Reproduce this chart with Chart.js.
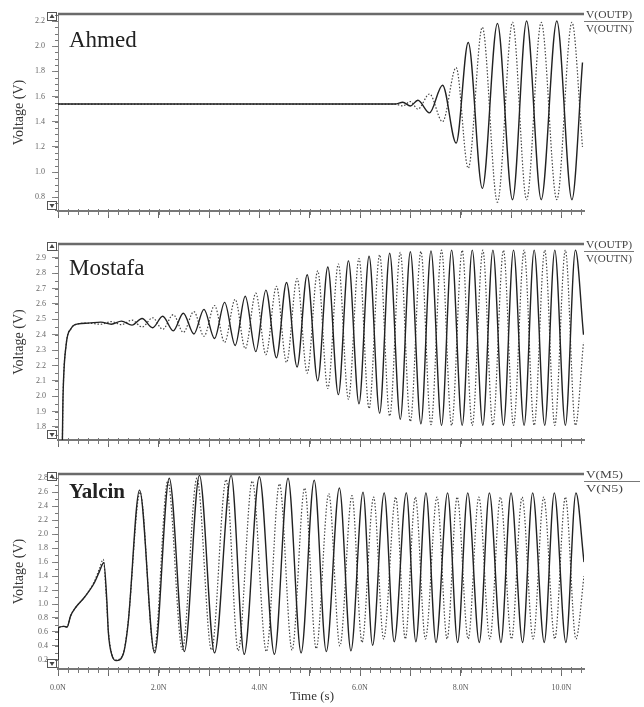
<!DOCTYPE html>
<html>
<head>
<meta charset="utf-8">
<script src="https://cdn.jsdelivr.net/npm/chart.js@4.4.1/dist/chart.umd.min.js"></script>
<style>
  html, body { margin: 0; padding: 0; background: #fff; }
  #wrap { position: relative; width: 644px; height: 707px; }
  #wrap canvas { position: absolute; left: 0; }
</style>
</head>
<body>
<div id="wrap">
  <canvas id="p1" width="644" height="225" style="top:0px"></canvas>
  <canvas id="p2" width="644" height="225" style="top:230px"></canvas>
  <canvas id="p3" width="644" height="247" style="top:460px"></canvas>
</div>
<script>
// time axis (ns): big ticks every 1 ns, labels every 2 ns
const timeTicks = [0, 1, 2, 3, 4, 5, 6, 7, 8, 9, 10];
const timeLabels = ['0.0N', '2.0N', '4.0N', '6.0N', '8.0N', '10.0N'];

// Ahmed: V(OUTP) solid, V(OUTN) dotted, extrema
const ahmedT = [0, 6.70, 6.85, 7.00, 7.15, 7.38, 7.64, 7.91, 8.15, 8.43, 8.73, 9.03, 9.31, 9.60, 9.91, 10.21, 10.42];
const ahmedP = [1.54, 1.54, 1.555, 1.525, 1.57, 1.47, 1.69, 1.23, 2.03, 0.87, 2.18, 0.78, 2.20, 0.78, 2.20, 0.78, 1.87];
const ahmedN = [1.54, 1.54, 1.525, 1.56, 1.50, 1.62, 1.40, 1.83, 1.03, 2.15, 0.76, 2.19, 0.78, 2.19, 0.78, 2.19, 1.20];
const ahmedTicks = [0.8, 1.0, 1.2, 1.4, 1.6, 1.8, 2.0, 2.2];

// Mostafa
const mostafaT = [0, 0.08, 0.10, 0.16, 0.26, 0.40, 0.60,
  0.85, 1.06, 1.26, 1.47, 1.67, 1.88, 2.08, 2.29, 2.49, 2.70, 2.90, 3.11, 3.31, 3.52, 3.72, 3.93,
  4.13, 4.34, 4.54, 4.75, 4.95, 5.16, 5.36, 5.57, 5.77, 5.98, 6.18, 6.39, 6.59, 6.80, 7.00, 7.21,
  7.41, 7.62, 7.82, 8.03, 8.23, 8.44, 8.64, 8.85, 9.05, 9.26, 9.46, 9.67, 9.87, 10.08, 10.28, 10.44];
const mostafaP = [1.50, 1.60, 2.00, 2.33, 2.44, 2.47, 2.475,
  2.482, 2.468, 2.488, 2.462, 2.505, 2.445, 2.52, 2.425, 2.54, 2.405, 2.565, 2.375, 2.61, 2.33, 2.65, 2.29,
  2.69, 2.25, 2.74, 2.19, 2.79, 2.10, 2.84, 2.01, 2.88, 1.95, 2.91, 1.89, 2.93, 1.85, 2.94, 1.82,
  2.945, 1.81, 2.95, 1.81, 2.95, 1.81, 2.95, 1.81, 2.95, 1.81, 2.95, 1.81, 2.95, 1.81, 2.95, 2.40];
const mostafaN = [1.50, 1.60, 2.00, 2.33, 2.44, 2.47, 2.475,
  2.468, 2.485, 2.465, 2.495, 2.45, 2.51, 2.435, 2.53, 2.415, 2.55, 2.39, 2.59, 2.35, 2.63, 2.31, 2.67,
  2.27, 2.715, 2.22, 2.765, 2.15, 2.815, 2.05, 2.86, 1.98, 2.895, 1.92, 2.92, 1.87, 2.935, 1.835, 2.942,
  1.815, 2.95, 1.81, 2.95, 1.81, 2.95, 1.81, 2.95, 1.81, 2.95, 1.81, 2.95, 1.81, 2.95, 1.81, 2.35];
const mostafaTicks = [1.8, 1.9, 2.0, 2.1, 2.2, 2.3, 2.4, 2.5, 2.6, 2.7, 2.8, 2.9];

// Yalcin: V(M5) solid, V(N5) dotted
const yalcinMT = [0, 0.01, 0.12, 0.18, 0.25, 0.35, 0.53, 0.72, 0.82, 0.91, 0.97, 1.00, 1.07, 1.16, 1.29, 1.39,
  1.62, 1.92, 2.21, 2.51, 2.81, 3.11, 3.44, 3.70, 4.00, 4.30, 4.57, 4.83, 5.09, 5.33, 5.59, 5.82, 6.06, 6.25,
  6.48, 6.68, 6.92, 7.11, 7.31, 7.51, 7.74, 7.94, 8.14, 8.37, 8.57, 8.80, 9.00, 9.23, 9.43, 9.66, 9.86, 10.09,
  10.29, 10.45];
const yalcinM = [0.20, 0.66, 0.68, 0.67, 0.83, 0.95, 1.10, 1.30, 1.46, 1.59, 1.05, 0.60, 0.27, 0.19, 0.27, 0.70,
  2.63, 0.30, 2.80, 0.32, 2.84, 0.30, 2.84, 0.28, 2.82, 0.28, 2.80, 0.30, 2.77, 0.32, 2.66, 0.33, 2.60, 0.41,
  2.59, 0.46, 2.59, 0.46, 2.59, 0.45, 2.59, 0.45, 2.59, 0.45, 2.59, 0.45, 2.59, 0.45, 2.59, 0.45, 2.59, 0.45,
  2.59, 1.60];
const yalcinNT = [0, 0.01, 0.12, 0.18, 0.25, 0.35, 0.53, 0.72, 0.82, 0.90, 0.96, 1.00, 1.07, 1.16, 1.29, 1.39,
  1.63, 1.91, 2.18, 2.47, 2.76, 3.05, 3.34, 3.58, 3.86, 4.14, 4.40, 4.65, 4.90, 5.13, 5.38, 5.60, 5.84, 6.04,
  6.27, 6.47, 6.71, 6.90, 7.10, 7.30, 7.53, 7.73, 7.93, 8.15, 8.36, 8.58, 8.79, 9.01, 9.22, 9.44, 9.65, 9.87,
  10.08, 10.29, 10.45];
const yalcinN = [0.20, 0.66, 0.68, 0.67, 0.83, 0.95, 1.10, 1.32, 1.50, 1.64, 1.10, 0.62, 0.28, 0.20, 0.28, 0.72,
  2.60, 0.33, 2.76, 0.35, 2.80, 0.34, 2.78, 0.33, 2.76, 0.32, 2.72, 0.34, 2.66, 0.36, 2.58, 0.40, 2.55, 0.45,
  2.53, 0.50, 2.53, 0.50, 2.53, 0.50, 2.53, 0.50, 2.53, 0.50, 2.53, 0.50, 2.53, 0.50, 2.53, 0.50, 2.53, 0.50,
  2.53, 0.50, 1.40];
const yalcinTicks = [0.2, 0.4, 0.6, 0.8, 1.0, 1.2, 1.4, 1.6, 1.8, 2.0, 2.2, 2.4, 2.6, 2.8];

const serif = '"Liberation Serif", "DejaVu Serif", serif';

// text squeezed/stretched to a given width (legend labels in the ref are wide)
function fitText(ctx, txt, x, y, w) {
  const m = ctx.measureText(txt).width;
  ctx.save();
  ctx.translate(x, y);
  ctx.scale(w / m, 1);
  ctx.fillText(txt, 0, 0);
  ctx.restore();
}

// frame, legend, name, minor ticks - the bits Chart.js doesn't do by itself
const scopePlugin = {
  id: 'scope',
  afterDraw(chart, args, o) {
    const { ctx, chartArea: a } = chart;
    const xs = chart.scales.x, ys = chart.scales.y;
    ctx.save();

    // minor ticks
    ctx.strokeStyle = '#777';
    ctx.lineWidth = 1;
    ctx.beginPath();
    for (let i = 0; i * 0.2 <= xs.max + 1e-9; i++) {
      const px = Math.round(xs.getPixelForValue(i * 0.2)) + 0.5;
      ctx.moveTo(px, a.bottom - 2);
      ctx.lineTo(px, a.bottom + 4);
    }
    for (let v = Math.ceil(ys.min / o.yMinor) * o.yMinor; v <= ys.max; v += o.yMinor) {
      const py = Math.round(ys.getPixelForValue(v)) + 0.5;
      ctx.moveTo(a.left - 3, py);
      ctx.lineTo(a.left, py);
    }
    ctx.stroke();

    // thick top line
    ctx.strokeStyle = '#6a6a6a';
    ctx.lineWidth = 2.5;
    ctx.beginPath();
    ctx.moveTo(a.left, a.top);
    ctx.lineTo(a.right, a.top);
    ctx.stroke();

    // legend at right
    ctx.font = '10px ' + serif;
    ctx.fillStyle = '#444';
    ctx.textAlign = 'left';
    ctx.textBaseline = 'alphabetic';
    fitText(ctx, o.legend[0], a.right + 2, a.top + 4, o.legendW);
    fitText(ctx, o.legend[1], a.right + 2, a.top + 18, o.legendW);
    ctx.strokeStyle = '#777';
    ctx.lineWidth = 1;
    ctx.beginPath();
    ctx.moveTo(a.right, a.top + 7.5);
    ctx.lineTo(a.right + o.sepLen, a.top + 7.5);
    ctx.stroke();

    // corner markers
    ctx.strokeStyle = '#555';
    ctx.fillStyle = '#444';
    ctx.strokeRect(a.left - 10.5, a.top - 1.5, 9, 8);
    ctx.strokeRect(a.left - 10.5, a.bottom - 9.5, 9, 8);
    ctx.beginPath();
    ctx.moveTo(a.left - 6, a.top);
    ctx.lineTo(a.left - 8.5, a.top + 4);
    ctx.lineTo(a.left - 3.5, a.top + 4);
    ctx.fill();
    ctx.beginPath();
    ctx.moveTo(a.left - 6, a.bottom - 3);
    ctx.lineTo(a.left - 8.5, a.bottom - 7);
    ctx.lineTo(a.left - 3.5, a.bottom - 7);
    ctx.fill();

    // panel name
    ctx.fillStyle = '#222';
    ctx.font = o.nameFont;
    ctx.fillText(o.name, a.left + 11, o.nameY);

    // y title
    ctx.save();
    ctx.translate(23, (a.top + a.bottom) / 2);
    ctx.rotate(-Math.PI / 2);
    ctx.textAlign = 'center';
    ctx.font = '14px ' + serif;
    ctx.fillStyle = '#333';
    ctx.fillText('Voltage (V)', 0, 0);
    ctx.restore();

    if (o.xTitle) {
      ctx.textAlign = 'center';
      ctx.font = '13px ' + serif;
      ctx.fillStyle = '#333';
      ctx.fillText(o.xTitle, 312, a.bottom + 31);
    }
    ctx.restore();
  }
};

function toPoints(ts, vs) {
  return ts.map((t, i) => ({ x: t, y: vs[i] }));
}

function makePanel(id, p) {
  return new Chart(document.getElementById(id), {
    type: 'line',
    data: {
      datasets: [
        {
          data: toPoints(p.solidT, p.solid),
          borderColor: '#222', borderWidth: 1.4,
          pointRadius: 0, cubicInterpolationMode: 'monotone'
        },
        {
          data: toPoints(p.dotT, p.dot),
          borderColor: '#444', borderWidth: 1.2, borderDash: [1.5, 1.8],
          pointRadius: 0, cubicInterpolationMode: 'monotone'
        }
      ]
    },
    options: {
      responsive: false,
      animation: false,
      devicePixelRatio: 1,
      layout: { padding: { top: 14, right: 60, left: 0, bottom: 0 } },
      plugins: {
        legend: { display: false },
        tooltip: { enabled: false },
        scope: {
          legend: p.legend, legendW: p.legendW, sepLen: p.sepLen, name: p.name, nameFont: p.nameFont,
          nameY: p.nameY, yMinor: p.yMinor, xTitle: p.xTitle
        }
      },
      scales: {
        x: {
          type: 'linear', min: 0, max: 10.45,
          afterBuildTicks: s => { s.ticks = timeTicks.map(v => ({ value: v })); },
          afterFit: s => { s.height = p.xHeight; },
          grid: { drawOnChartArea: false, tickLength: 7, color: '#666' },
          border: { color: '#777', width: 2 },
          ticks: {
            display: p.showX, autoSkip: false, maxRotation: 0, padding: 7,
            callback: v => (v % 2 === 0 ? timeLabels[v / 2] : ''),
            font: { family: serif, size: 8 }, color: '#555'
          }
        },
        y: {
          min: p.yMin, max: p.yMax,
          afterBuildTicks: s => { s.ticks = p.yTicks.map(v => ({ value: v })); },
          afterFit: s => { s.width = 58; },
          grid: { drawOnChartArea: false, tickLength: 6, color: '#888' },
          border: { color: '#888', width: 1 },
          ticks: {
            padding: p.yPad, callback: v => v.toFixed(1),
            font: { family: serif, size: 8 }, color: '#666'
          }
        }
      }
    },
    plugins: [scopePlugin]
  });
}

makePanel('p1', {
  solidT: ahmedT, solid: ahmedP, dotT: ahmedT, dot: ahmedN,
  yMin: 0.69, yMax: 2.256, yTicks: ahmedTicks, yMinor: 0.05, yPad: 7,
  legend: ['V(OUTP)', 'V(OUTN)'], legendW: 46, sepLen: 50,
  name: 'Ahmed', nameFont: '23px ' + serif, nameY: 47,
  xHeight: 14, showX: false
});

makePanel('p2', {
  solidT: mostafaT, solid: mostafaP, dotT: mostafaT, dot: mostafaN,
  yMin: 1.715, yMax: 2.99, yTicks: mostafaTicks, yMinor: 0.05, yPad: 6,
  legend: ['V(OUTP)', 'V(OUTN)'], legendW: 46, sepLen: 50,
  name: 'Mostafa', nameFont: '23px ' + serif, nameY: 45,
  xHeight: 15, showX: false
});

makePanel('p3', {
  solidT: yalcinMT, solid: yalcinM, dotT: yalcinNT, dot: yalcinN,
  yMin: 0.07, yMax: 2.86, yTicks: yalcinTicks, yMinor: 0.1, yPad: 4,
  legend: ['V(M5)', 'V(N5)'], legendW: 37, sepLen: 56,
  name: 'Yalcin', nameFont: 'bold 21px ' + serif, nameY: 38,
  xHeight: 38, showX: true, xTitle: 'Time (s)'
});
</script>
</body>
</html>
